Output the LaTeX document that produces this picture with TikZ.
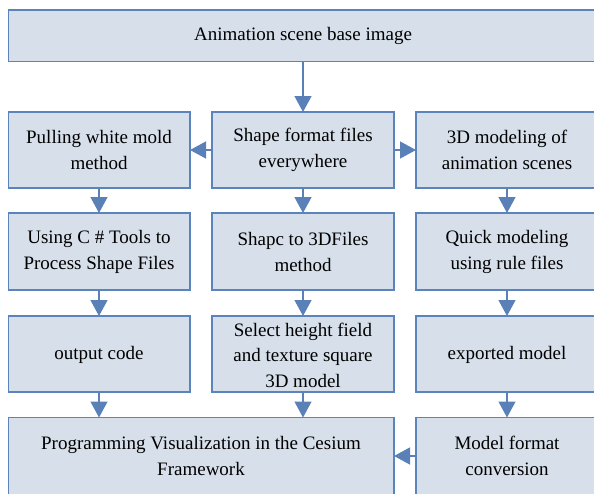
\documentclass[tikz,border=0pt]{standalone}
\usepackage{fontspec}
\setmainfont{Liberation Serif}
\usetikzlibrary{arrows.meta}
\definecolor{boxfill}{HTML}{D6DFEA}
\definecolor{boxline}{HTML}{5B84BC}
\definecolor{arrowc}{HTML}{5A80B8}
\begin{document}
\begin{tikzpicture}[x=1pt,y=-1pt,
  box/.style={draw=boxline,fill=boxfill,line width=1.3pt},
  lbl/.style={align=center,font=\fontsize{19}{25.5}\selectfont,text=black},
  arr/.style={draw=arrowc,line width=1.3pt,-{Triangle[length=16pt,width=17pt]}}]
\useasboundingbox (0,0) rectangle (594,493);
\begin{scope}
\clip (0,0) rectangle (594,493);
% boxes
\draw[box] (8.5,10) rectangle (600,61.5);
\draw[box] (8.5,112) rectangle (190,188);
\draw[box] (212,112) rectangle (394,188);
\draw[box] (416,112) rectangle (600,188);
\draw[box] (8.5,213) rectangle (190,290);
\draw[box] (212,213) rectangle (394,290);
\draw[box] (416,213) rectangle (600,290);
\draw[box] (8.5,316) rectangle (190,392);
\draw[box] (212,316) rectangle (394,392);
\draw[box] (416,316) rectangle (600,392);
\draw[box] (8.5,417.5) rectangle (394,500);
\draw[box] (416,417.5) rectangle (600,500);
\end{scope}
% texts
\node[lbl] (top) at (303,36) {Animation scene base image};
\node[lbl] (a1) at (99,150) {Pulling white mold\\method};
\node[lbl] (b1) at (303,150) {Shape format files\\everywhere};
\node[lbl] (c1) at (507,150) {3D modeling of\\animation scenes};
\node[lbl] (a2) at (99,252) {Using C \# Tools to\\Process Shape Files};
\node[lbl] (b2) at (303,252) {Shapc to 3DFiles\\method};
\node[lbl] (c2) at (507,252) {Quick modeling\\using rule files};
\node[lbl] (a3) at (99,355) {output code};
\node[lbl] (b3) at (303,355) {Select height field\\and texture square\\3D model};
\node[lbl] (c3) at (507,355) {exported model};
\node[lbl] (d) at (201,456) {Programming Visualization in the Cesium\\Framework};
\node[lbl] (c4) at (507,456) {Model format\\conversion};
% anchor coordinates on box edges
\coordinate (topS) at (303,61.5);
\coordinate (b1N) at (303,112);
\coordinate (b1W) at (212,150);
\coordinate (b1E) at (394,150);
\coordinate (a1E) at (190,150);
\coordinate (c1W) at (416,150);
\coordinate (a1S) at (99,188);
\coordinate (a2N) at (99,213);
\coordinate (b1S) at (303,188);
\coordinate (b2N) at (303,213);
\coordinate (c1S) at (507,188);
\coordinate (c2N) at (507,213);
\coordinate (a2S) at (99,290);
\coordinate (a3N) at (99,316);
\coordinate (b2S) at (303,290);
\coordinate (b3N) at (303,316);
\coordinate (c2S) at (507,290);
\coordinate (c3N) at (507,316);
\coordinate (a3S) at (99,392);
\coordinate (dNa) at (99,417.5);
\coordinate (b3S) at (303,392);
\coordinate (dNb) at (303,417.5);
\coordinate (c3S) at (507,392);
\coordinate (c4N) at (507,417.5);
\coordinate (c4W) at (416,456);
\coordinate (dE) at (394,456);
% arrows
\draw[arr] (topS) -- (b1N);
\draw[arr] (b1W) -- (a1E);
\draw[arr] (b1E) -- (c1W);
\draw[arr] (a1S) -- (a2N);
\draw[arr] (b1S) -- (b2N);
\draw[arr] (c1S) -- (c2N);
\draw[arr] (a2S) -- (a3N);
\draw[arr] (b2S) -- (b3N);
\draw[arr] (c2S) -- (c3N);
\draw[arr] (a3S) -- (dNa);
\draw[arr] (b3S) -- (dNb);
\draw[arr] (c3S) -- (c4N);
\draw[arr] (c4W) -- (dE);
\end{tikzpicture}
\end{document}
